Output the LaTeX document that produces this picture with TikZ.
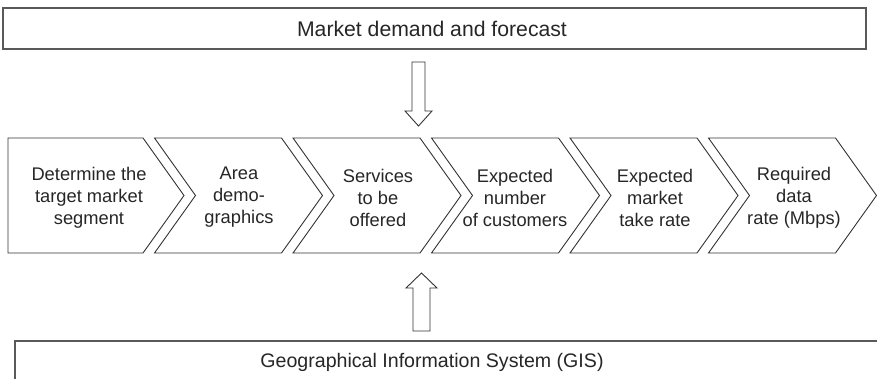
\documentclass[tikz,border=0pt]{standalone}
\usepackage{fontspec}
\setmainfont{Liberation Sans}
\usetikzlibrary{calc}
\begin{document}
\begin{tikzpicture}[x=1pt,y=-1pt,
  outline/.style={draw=black!80,line width=0.9pt,line join=miter},
  boxline/.style={draw=black!65,line width=1.4pt},
  steptext/.style={align=center,font=\fontsize{18.3}{22}\selectfont,text=black!85,inner sep=0pt},
  bandtext/.style={font=\fontsize{19.6}{24}\selectfont,text=black!85,inner sep=0pt}]
\useasboundingbox (0,0) rectangle (877,378);

% upper band
\draw[boxline] (3,8) rectangle (866,49);
\node[bandtext,font=\fontsize{21.2}{24}\selectfont] (demand) at (432,29) {Market demand and forecast};

% lower band, running off the right and bottom edges
\draw[boxline] (880,341) -- (15,341) -- (15,380);
\node[bandtext] (gis) at (432,362) {Geographical Information System (GIS)};

% chain of chevrons
\def\ctop{138}\def\cbot{253}\def\cmid{195.5}
\draw[outline] (8,\ctop) -- (143,\ctop) -- (184,\cmid) -- (143,\cbot) -- (8,\cbot) -- cycle;
\foreach \i in {1,...,5}{
  \pgfmathsetmacro{\R}{143+138.5*\i}
  \pgfmathsetmacro{\T}{\R+41}
  \pgfmathsetmacro{\L}{\R-127}
  \pgfmathsetmacro{\N}{\L+41}
  \draw[outline] (\L,\ctop) -- (\R,\ctop) -- (\T,\cmid) -- (\R,\cbot) -- (\L,\cbot) -- (\N,\cmid) -- cycle;
}

\node[steptext] (s1) at (89,197.5) {Determine the\\target market\\segment};
\node[steptext] (s2) at (239,197.5) {Area\\demo-\\graphics};
\node[steptext] (s3) at (378,197.5) {Services\\to be\\offered};
\node[steptext] (s4) at (515,197.5) {Expected\\number\\of customers};
\node[steptext] (s5) at (655,197.5) {Expected\\market\\take rate};
\node[steptext] (s6) at (794,197.5) {Required\\data\\rate (Mbps)};

% hollow block arrows feeding the third step
\coordinate (dtop) at (418.5,62);
\coordinate (dtip) at (418.5,126);
\draw[outline] ($(dtop)+(-6.5,0)$) -- ($(dtop)+(6.5,0)$) -- ($(dtip)+(6.5,-15)$) -- ($(dtip)+(13.5,-15)$)
  -- (dtip) -- ($(dtip)+(-13.5,-15)$) -- ($(dtip)+(-6.5,-15)$) -- cycle;

\coordinate (ubot) at (421.5,331);
\coordinate (utip) at (421.5,273);
\draw[outline] ($(ubot)+(-8.5,0)$) -- ($(ubot)+(8.5,0)$) -- ($(utip)+(8.5,15)$) -- ($(utip)+(15.5,15)$)
  -- (utip) -- ($(utip)+(-15.5,15)$) -- ($(utip)+(-8.5,15)$) -- cycle;
\end{tikzpicture}
\end{document}
